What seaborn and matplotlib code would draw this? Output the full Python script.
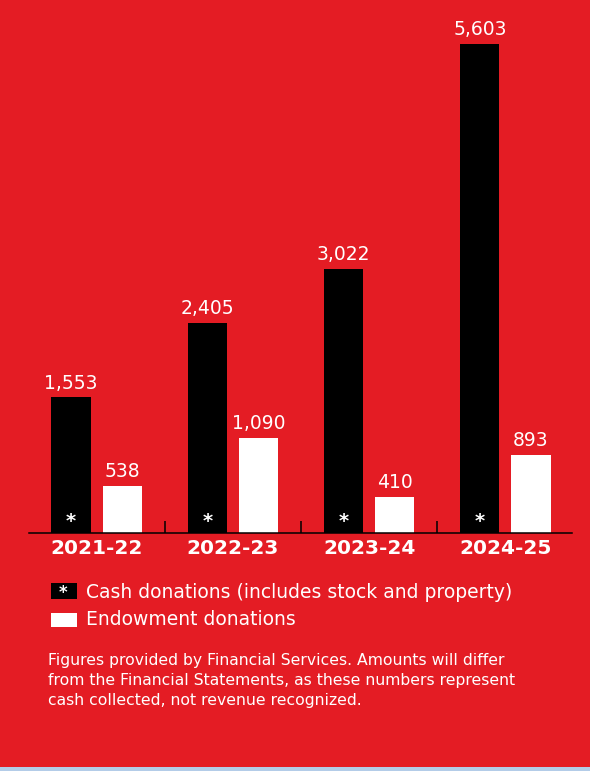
import matplotlib
matplotlib.use("Agg")
import matplotlib.pyplot as plt
from matplotlib.patches import Rectangle
import seaborn as sns
import pandas as pd

# ---- data ----
years = ["2021-22", "2022-23", "2023-24", "2024-25"]
cash = [1553, 2405, 3022, 5603]
endowment = [538, 1090, 410, 893]
series = ["Cash donations (includes stock and property)", "Endowment donations"]
footnote = ["Figures provided by Financial Services. Amounts will differ",
            "from the Financial Statements, as these numbers represent",
            "cash collected, not revenue recognized."]

RED = "#E41C24"
BLUE = "#B3CCE8"
W, H = 590, 771

df = pd.DataFrame({
    "year": years * 2,
    "type": [series[0]] * len(years) + [series[1]] * len(years),
    "value": cash + endowment,
})

sns.set_style("white")
plt.rcParams["font.family"] = ["DejaVu Sans"]

fig = plt.figure(figsize=(W / 100, H / 100), dpi=100, facecolor=RED)
ax = fig.add_axes([29 / W, (H - 533) / H, 543 / W, 523.6 / H])
ax.set_facecolor(RED)

sns.barplot(data=df, x="year", y="value", hue="type", hue_order=series,
            palette=["black", "white"], saturation=1, width=0.75, gap=0.235,
            linewidth=0, legend=False, ax=ax)

ax.set_xlim(-0.496, 3.488)
ax.set_ylim(0, 6000)
ax.set_xlabel("")
ax.set_ylabel("")
ax.set_yticks([])
for s in ["top", "left", "right"]:
    ax.spines[s].set_visible(False)
ax.spines["bottom"].set_color("black")
ax.spines["bottom"].set_linewidth(1.1)

ax.tick_params(axis="x", which="major", bottom=True, length=0, pad=4.5,
               labelsize=14.5, labelcolor="white")
for lab in ax.get_xticklabels():
    lab.set_fontweight("bold")
ax.set_xticks([0.5, 1.5, 2.5], minor=True)
ax.tick_params(axis="x", which="minor", bottom=True, direction="in",
               length=8.6, width=1.1, color="black")

for cont in ax.containers:
    ax.bar_label(cont, labels=[f"{v:,.0f}" for v in cont.datavalues],
                 padding=3.5, color="white", fontsize=13.5)

for bar in ax.containers[0]:
    ax.annotate("*", xy=(bar.get_x() + bar.get_width() / 2, 0),
                xytext=(0, 8), textcoords="offset points", ha="center",
                va="center", color="white", fontsize=14, fontweight="bold")

# legend
def fx(x):
    return x / W

def fy(y):
    return 1 - y / H

fig.add_artist(Rectangle((fx(51), fy(599.3)), 25.7 / W, 16.6 / H,
                         transform=fig.transFigure, color="black", lw=0))
fig.text(fx(63.5), fy(593), "*", color="white", fontsize=12, fontweight="bold",
         ha="center", va="center")
fig.add_artist(Rectangle((fx(51), fy(627)), 25.7 / W, 14.5 / H,
                         transform=fig.transFigure, color="white", lw=0))
fig.text(fx(86), fy(597.7), series[0], color="white", fontsize=13.5,
         ha="left", va="baseline")
fig.text(fx(86), fy(625), series[1], color="white", fontsize=13.5,
         ha="left", va="baseline")

for i, line in enumerate(footnote):
    fig.text(fx(48), fy(665 + 20 * i), line, color="white", fontsize=11.25,
             ha="left", va="baseline")

fig.add_artist(Rectangle((0, 0), 1, 4 / H, transform=fig.transFigure,
                         color=BLUE, lw=0))

fig.savefig("out.png", dpi=100, facecolor=RED)
